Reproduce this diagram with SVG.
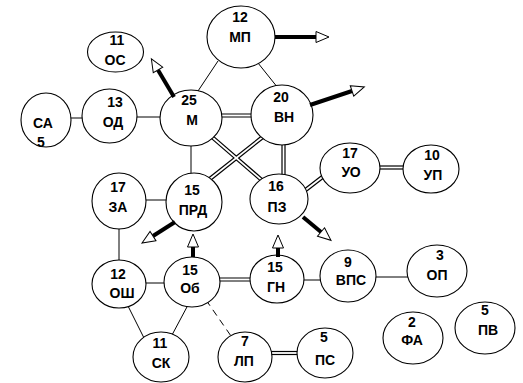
<svg xmlns="http://www.w3.org/2000/svg" width="523" height="383" viewBox="0 0 523 383">
<style>
.n{fill:#fff;stroke:#000;stroke-width:1.1}
.t{font-family:"Liberation Sans",Arial,sans-serif;font-weight:bold;font-size:14px;text-anchor:middle;fill:#000}
.s{stroke:#000;stroke-width:1;fill:none}
.d1{stroke:#000;stroke-width:4.2;fill:none}
.d2{stroke:#fff;stroke-width:1.8;fill:none}
.da{stroke:#000;stroke-width:1;stroke-dasharray:7,5;fill:none}
.a{stroke:#000;stroke-width:4;fill:none;marker-end:url(#ah)}
</style>
<defs>
<marker id="ah" markerUnits="userSpaceOnUse" markerWidth="16" markerHeight="14" refX="0" refY="5.5" orient="auto" overflow="visible">
<path d="M0,0 L13,5.5 L0,11 Z" fill="#fff" stroke="#000" stroke-width="1"/>
</marker>
</defs>
<rect width="523" height="383" fill="#fff"/>
<g id="connectors">
<line class="s" x1="70" y1="118" x2="84" y2="118"/>
<line class="s" x1="136" y1="117" x2="162" y2="117"/>
<line class="s" x1="198" y1="91" x2="218" y2="61"/>
<line class="s" x1="258" y1="63" x2="278" y2="88"/>
<line class="s" x1="191" y1="144" x2="191" y2="176"/>
<line class="s" x1="145" y1="200" x2="168" y2="200"/>
<line class="s" x1="119" y1="226" x2="119" y2="262"/>
<line class="s" x1="145" y1="283" x2="166" y2="283"/>
<line class="s" x1="128" y1="306" x2="144" y2="338"/>
<line class="s" x1="188" y1="305" x2="172" y2="335"/>
<line class="da" x1="206" y1="300" x2="231" y2="336"/>
<line class="s" x1="301" y1="280" x2="322" y2="280"/>
<line class="s" x1="375" y1="277" x2="409" y2="277"/>
<g id="doubles">
<line class="d1" x1="220" y1="115.5" x2="253" y2="115.5"/>
<line class="d1" x1="212" y1="137" x2="264" y2="182"/>
<line class="d1" x1="264" y1="136" x2="206" y2="182"/>
<line class="d1" x1="283.5" y1="143" x2="283.5" y2="177"/>
<line class="d1" x1="303" y1="192" x2="325" y2="175"/>
<line class="d1" x1="378" y1="167.5" x2="408" y2="167.5"/>
<line class="d1" x1="218" y1="279.5" x2="253" y2="279.5"/>
<line class="d1" x1="269" y1="353" x2="299" y2="353"/>
<line class="d2" x1="220" y1="115.5" x2="253" y2="115.5"/>
<line class="d2" x1="212" y1="137" x2="264" y2="182"/>
<line class="d2" x1="264" y1="136" x2="206" y2="182"/>
<line class="d2" x1="283.5" y1="143" x2="283.5" y2="177"/>
<line class="d2" x1="303" y1="192" x2="325" y2="175"/>
<line class="d2" x1="378" y1="167.5" x2="408" y2="167.5"/>
<line class="d2" x1="218" y1="279.5" x2="253" y2="279.5"/>
<line class="d2" x1="269" y1="353" x2="299" y2="353"/>
</g>
</g>
<g id="nodes">
<g id="n-OS"><ellipse class="n" cx="115.5" cy="52" rx="28" ry="20"/><text class="t" x="117" y="45">11</text><text class="t" x="115" y="65">ОС</text></g>
<g id="n-SA"><ellipse class="n" cx="46" cy="120" rx="25" ry="27"/><text class="t" x="43" y="128">СА</text><text class="t" x="41" y="147">5</text></g>
<g id="n-OD"><ellipse class="n" cx="109.5" cy="116" rx="27.5" ry="27"/><text class="t" x="115" y="107">13</text><text class="t" x="113" y="127">ОД</text></g>
<g id="n-M"><ellipse class="n" cx="191" cy="118" rx="31" ry="28"/><text class="t" x="189" y="105">25</text><text class="t" x="192" y="125">М</text></g>
<g id="n-MP"><ellipse class="n" cx="241" cy="37" rx="34" ry="31"/><text class="t" x="240" y="22">12</text><text class="t" x="240" y="42">МП</text></g>
<g id="n-VN"><ellipse class="n" cx="282" cy="115" rx="31" ry="30"/><text class="t" x="281" y="102">20</text><text class="t" x="284" y="122">ВН</text></g>
<g id="n-UO"><ellipse class="n" cx="350" cy="168" rx="30" ry="25"/><text class="t" x="350" y="158">17</text><text class="t" x="351" y="177">УО</text></g>
<g id="n-UP"><ellipse class="n" cx="431" cy="169" rx="28" ry="24"/><text class="t" x="432" y="160">10</text><text class="t" x="433" y="180">УП</text></g>
<g id="n-PZ"><ellipse class="n" cx="279" cy="199" rx="29" ry="25"/><text class="t" x="276" y="191">16</text><text class="t" x="277" y="212">ПЗ</text></g>
<g id="n-PRD"><ellipse class="n" cx="194" cy="202" rx="28" ry="29"/><text class="t" x="192" y="195">15</text><text class="t" x="193" y="215">ПРД</text></g>
<g id="n-ZA"><ellipse class="n" cx="119" cy="201" rx="27" ry="28"/><text class="t" x="118" y="192">17</text><text class="t" x="118" y="212">ЗА</text></g>
<g id="n-OSh"><ellipse class="n" cx="119" cy="284" rx="27" ry="24"/><text class="t" x="118" y="279">12</text><text class="t" x="122" y="298">ОШ</text></g>
<g id="n-Ob"><ellipse class="n" cx="192" cy="282" rx="28" ry="25"/><text class="t" x="190" y="275">15</text><text class="t" x="190" y="293">Об</text></g>
<g id="n-SK"><ellipse class="n" cx="161" cy="357" rx="28" ry="25"/><text class="t" x="160" y="348">11</text><text class="t" x="161" y="368">СК</text></g>
<g id="n-LP"><ellipse class="n" cx="245" cy="357" rx="27" ry="25"/><text class="t" x="245" y="346">7</text><text class="t" x="244" y="366">ЛП</text></g>
<g id="n-PS"><ellipse class="n" cx="325" cy="353" rx="28" ry="25"/><text class="t" x="324" y="342">5</text><text class="t" x="325" y="365">ПС</text></g>
<g id="n-GN"><ellipse class="n" cx="277" cy="279" rx="27" ry="24"/><text class="t" x="275" y="272">15</text><text class="t" x="276" y="292">ГН</text></g>
<g id="n-VPS"><ellipse class="n" cx="348" cy="276" rx="28" ry="26"/><text class="t" x="348" y="267">9</text><text class="t" x="351" y="285">ВПС</text></g>
<g id="n-OP"><ellipse class="n" cx="437" cy="271" rx="30" ry="26"/><text class="t" x="440" y="260">3</text><text class="t" x="437" y="280">ОП</text></g>
<g id="n-FA"><ellipse class="n" cx="413" cy="338" rx="30" ry="26"/><text class="t" x="412" y="327">2</text><text class="t" x="412" y="345">ФА</text></g>
<g id="n-PV"><ellipse class="n" cx="485" cy="328" rx="30" ry="26"/><text class="t" x="485" y="315">5</text><text class="t" x="488" y="335">ПВ</text></g>
</g>
<g id="arrows">
<line class="a" x1="174" y1="97" x2="158" y2="70"/>
<line class="a" x1="275" y1="37" x2="316" y2="37"/>
<line class="a" x1="310" y1="105" x2="352" y2="91"/>
<line class="a" x1="175" y1="222" x2="153" y2="236"/>
<line class="a" x1="193" y1="257" x2="193" y2="247"/>
<line class="a" x1="278" y1="257" x2="278" y2="248"/>
<line class="a" x1="303" y1="217" x2="321" y2="232"/>
</g>
</svg>
